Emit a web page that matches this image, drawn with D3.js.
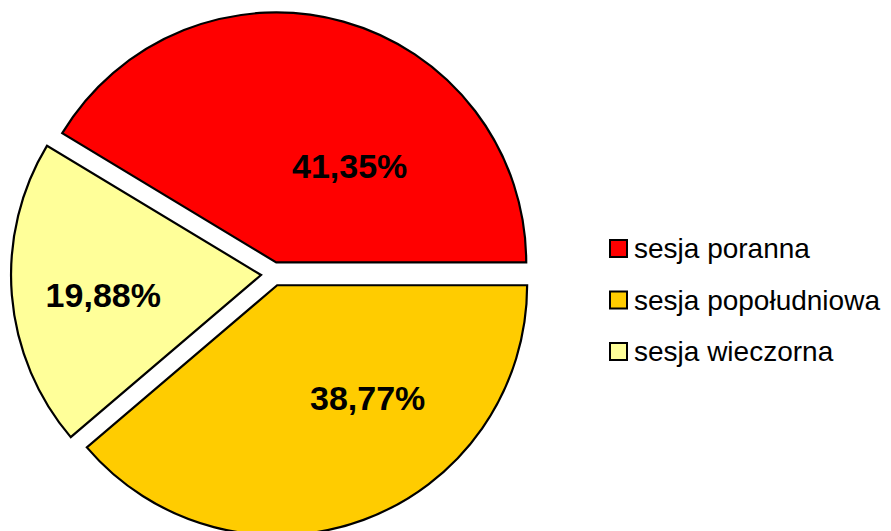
<!DOCTYPE html>
<html>
<head>
<meta charset="utf-8">
<script src="https://cdn.jsdelivr.net/npm/d3@7"></script>
<style>
  body { margin: 0; background: #fff; }
  svg { display: block; }
</style>
</head>
<body>
<div id="chart"></div>
<script>
// data
var categories = ["sesja poranna", "sesja popołudniowa", "sesja wieczorna"];
var values = [41.35, 38.77, 19.88];
var labels = ["41,35%", "38,77%", "19,88%"];
var colors = ["#FF0000", "#FFCC00", "#FFFF99"];

var w = 891, h = 531;
var cx = 273, cy = 274, r = 250, explode = 12;

// label placement relative to each exploded slice tip (angle deg from north, distance px)
var labelPlace = [[41, 112], [144, 154], [258.5, 161]];

var svg = d3.select("#chart").append("svg")
    .attr("width", w)
    .attr("height", h);

// first slice ends at 3 o'clock, like the Excel original
var total = d3.sum(values);
var start = Math.PI / 2 - values[0] / total * 2 * Math.PI;

var pie = d3.pie().sort(null).value(function(d) { return d; })
    .startAngle(start).endAngle(start + 2 * Math.PI);
var arc = d3.arc().innerRadius(0).outerRadius(r);

var slices = pie(values);

var g = svg.selectAll("g.slice")
    .data(slices)
    .enter()
    .append("g")
    .attr("class", "slice")
    .attr("transform", function(d) {
        var a = (d.startAngle + d.endAngle) / 2;
        var x = cx + explode * Math.sin(a);
        var y = cy - explode * Math.cos(a);
        return "translate(" + x + "," + y + ")";
    });

g.append("path")
    .attr("d", arc)
    .attr("fill", function(d, i) { return colors[i]; })
    .attr("stroke", "#000")
    .attr("stroke-width", 2.2)
    .attr("stroke-linejoin", "miter");

g.append("text")
    .attr("x", function(d, i) { return labelPlace[i][1] * Math.sin(labelPlace[i][0] * Math.PI / 180); })
    .attr("y", function(d, i) { return -labelPlace[i][1] * Math.cos(labelPlace[i][0] * Math.PI / 180); })
    .attr("text-anchor", "middle")
    .style("font-family", "Arial, 'Liberation Sans', sans-serif")
    .style("font-weight", "bold")
    .style("font-size", "34px")
    .attr("fill", "#000")
    .text(function(d, i) { return labels[i]; });

// legend
var legend = svg.append("g").attr("transform", "translate(609,239)");

var item = legend.selectAll("g.item")
    .data(categories)
    .enter()
    .append("g")
    .attr("class", "item")
    .attr("transform", function(d, i) { return "translate(0," + (i * 51.5) + ")"; });

item.append("rect")
    .attr("x", 1).attr("y", 1)
    .attr("width", 17).attr("height", 17)
    .attr("fill", function(d, i) { return colors[i]; })
    .attr("stroke", "#000")
    .attr("stroke-width", 2);

item.append("text")
    .attr("x", 25)
    .attr("y", 19)
    .style("font-family", "Arial, 'Liberation Sans', sans-serif")
    .style("font-size", "28px")
    .attr("fill", "#000")
    .text(function(d) { return d; });
</script>
</body>
</html>
